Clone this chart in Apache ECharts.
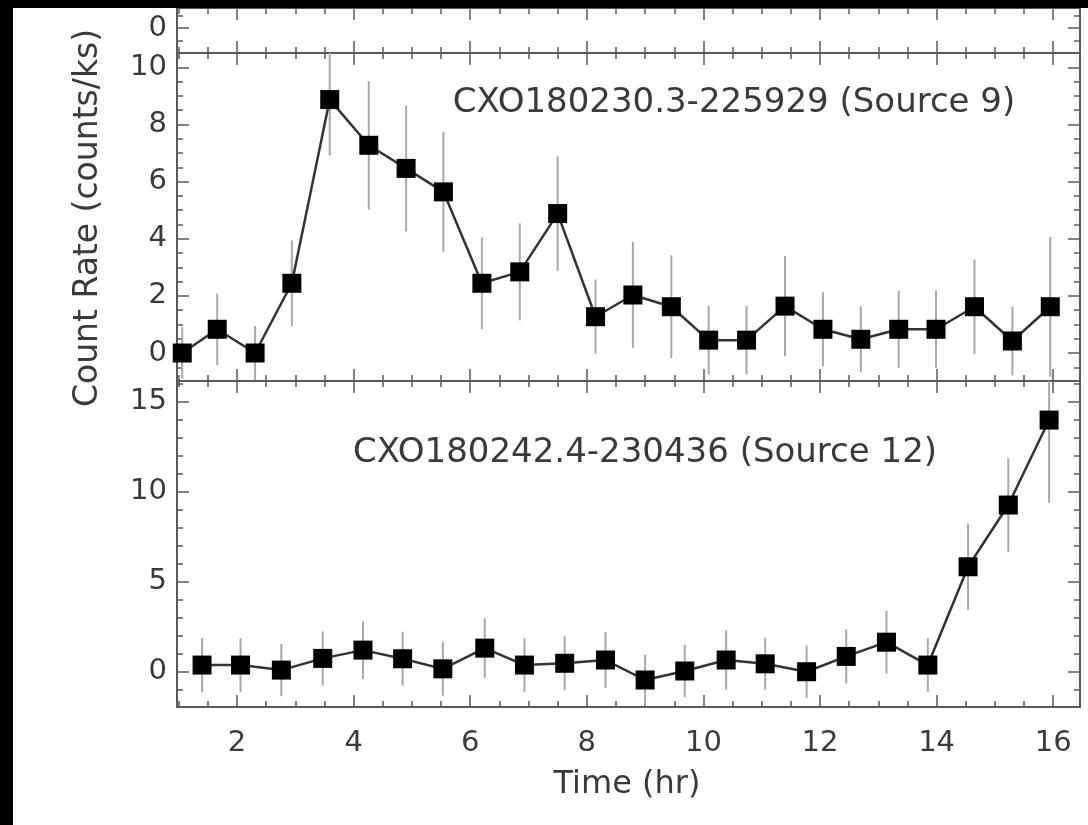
<html>
<head>
    <meta http-equiv="Content-Type" content="text/html; charset=utf-8">
    <title>light curves</title>
    <style>
        html, body { margin: 0; padding: 0; background: #fff; overflow: hidden; }
        #main { position: absolute; left: 13px; top: 8px; width: 1075px; height: 817px; }
        .edge { position: absolute; background: #000; }
    </style>
</head>
<body>
<div class="edge" style="left:0;top:0;width:13px;height:825px;"></div>
<div class="edge" style="left:0;top:0;width:1088px;height:8px;"></div>
<div id="main"></div>
<script type="text/javascript" src="https://cdn.jsdelivr.net/npm/echarts@6/dist/echarts.min.js"></script>
<script type="text/javascript">
// source 9 (upper panel)
var timeA = [1.06, 1.66, 2.31, 2.94, 3.59, 4.26, 4.90, 5.54, 6.20, 6.85, 7.50, 8.15,
             8.79, 9.45, 10.09, 10.74, 11.40, 12.05, 12.70, 13.35, 13.99, 14.65, 15.30, 15.95];
var rateA = [0, 0.83, 0, 2.44, 8.87, 7.27, 6.46, 5.64, 2.44, 2.84, 4.88, 1.27,
             2.03, 1.62, 0.45, 0.45, 1.64, 0.83, 0.48, 0.83, 0.83, 1.62, 0.42, 1.62];
var errA  = [0.9, 1.25, 0.95, 1.5, 1.95, 2.25, 2.2, 2.1, 1.6, 1.7, 2.0, 1.3,
             1.85, 1.8, 1.2, 1.2, 1.75, 1.3, 1.15, 1.35, 1.35, 1.65, 1.2, 2.45];

// source 12 (lower panel)
var timeB = [1.40, 2.06, 2.76, 3.47, 4.16, 4.84, 5.53, 6.25, 6.93, 7.62, 8.32,
             9.00, 9.68, 10.39, 11.06, 11.77, 12.45, 13.14, 13.85, 14.54, 15.23, 15.93];
var rateB = [0.37, 0.37, 0.09, 0.74, 1.2, 0.72, 0.16, 1.31, 0.37, 0.47, 0.65,
             -0.46, 0.04, 0.65, 0.44, 0.0, 0.85, 1.64, 0.37, 5.83, 9.26, 13.98];
var errB  = [1.5, 1.5, 1.45, 1.5, 1.6, 1.5, 1.5, 1.65, 1.5, 1.5, 1.55,
             1.4, 1.45, 1.65, 1.45, 1.45, 1.5, 1.75, 1.5, 2.4, 2.6, 4.6];

var xTicks = [2, 4, 6, 8, 10, 12, 14, 16];
var yTicksA = [0, 2, 4, 6, 8, 10];
var yTicksB = [0, 5, 10, 15];
var yTicksCut = [0];

var labelA = 'CXO180230.3-225929 (Source 9)';
var labelB = 'CXO180242.4-230436 (Source 12)';

var FONT = 'DejaVu Sans';
var AXIS = '#5a5a5a';
var TEXT = '#3a3a3a';

function steps(a, b, s) {
    var out = [];
    for (var v = a; v <= b + 1e-9; v += s) out.push(Math.round(v * 1000) / 1000);
    return out;
}

var grids = [
    {left: 164, top: 0, width: 903, height: 45},
    {left: 164, top: 45, width: 903, height: 328},
    {left: 164, top: 373, width: 903, height: 326}
];
var yRanges = [[-1, 0.8], [-0.98, 10.5], [-1.96, 16.15]];
var yMajors = [yTicksCut, yTicksA, yTicksB];
var yMinors = [steps(-1, 0.5, 0.5), steps(-0.5, 10.5, 0.5), steps(-1, 16, 1)];
var xMin = 0.97, xMax = 16.46;
var xMinor = steps(1, 16.5, 0.5);

var xAxes = [], yAxes = [], mainX = [], mainY = [];

function axis(g, pos, min, max, ticks, len, showLine, labels) {
    return {
        type: 'value', gridIndex: g, position: pos, min: min, max: max,
        axisLine: {show: showLine, onZero: false, lineStyle: {color: AXIS, width: 2}},
        axisTick: {show: true, inside: true, length: len, customValues: ticks, lineStyle: {color: AXIS, width: 1.5}},
        axisLabel: labels ? {show: true, customValues: labels, color: TEXT, fontFamily: FONT, fontSize: 29,
                             margin: pos === 'bottom' ? 22 : 10} : {show: false},
        splitLine: {show: false}
    };
}

for (var g = 0; g < 3; g++) {
    mainX.push(xAxes.length);
    xAxes.push(axis(g, 'bottom', xMin, xMax, xTicks, 12, true, g === 2 ? xTicks : null));
    xAxes.push(axis(g, 'bottom', xMin, xMax, xMinor, 6, false, null));
    xAxes.push(axis(g, 'top', xMin, xMax, xTicks, 12, true, null));
    xAxes.push(axis(g, 'top', xMin, xMax, xMinor, 6, false, null));

    var r = yRanges[g];
    mainY.push(yAxes.length);
    yAxes.push(axis(g, 'left', r[0], r[1], yMajors[g], 12, true, yMajors[g]));
    yAxes.push(axis(g, 'left', r[0], r[1], yMinors[g], 6, false, null));
    yAxes.push(axis(g, 'right', r[0], r[1], yMajors[g], 12, true, null));
    yAxes.push(axis(g, 'right', r[0], r[1], yMinors[g], 6, false, null));
}

function errorSeries(g, t, v, e) {
    var data = [];
    for (var i = 0; i < t.length; i++) data.push([t[i], v[i] - e[i], v[i] + e[i]]);
    return {
        type: 'custom', xAxisIndex: mainX[g], yAxisIndex: mainY[g], z: 1,
        data: data,
        renderItem: function (params, api) {
            var p1 = api.coord([api.value(0), api.value(1)]);
            var p2 = api.coord([api.value(0), api.value(2)]);
            var cs = params.coordSys;
            var yTop = cs.y, yBot = cs.y + cs.height;
            var a = Math.min(Math.max(p1[1], yTop), yBot);
            var b = Math.min(Math.max(p2[1], yTop), yBot);
            return {type: 'line', shape: {x1: p1[0], y1: a, x2: p2[0], y2: b},
                    style: {stroke: '#a8a8a8', lineWidth: 2}};
        }
    };
}

function lineSeries(g, t, v) {
    var data = [];
    for (var i = 0; i < t.length; i++) data.push([t[i], v[i]]);
    return {
        type: 'line', xAxisIndex: mainX[g], yAxisIndex: mainY[g], z: 3,
        data: data, symbol: 'rect', symbolSize: 19, showSymbol: true,
        itemStyle: {color: '#000'}, lineStyle: {color: '#333', width: 2.5},
        animation: false
    };
}

var myChart = echarts.init(document.getElementById('main'));

var option = {
    animation: false,
    backgroundColor: '#fff',
    grid: grids,
    xAxis: xAxes,
    yAxis: yAxes,
    series: [
        errorSeries(1, timeA, rateA, errA),
        lineSeries(1, timeA, rateA),
        errorSeries(2, timeB, rateB, errB),
        lineSeries(2, timeB, rateB)
    ],
    graphic: [
        {type: 'text', x: 721, y: 95, style: {text: labelA, fill: TEXT, font: '34px "DejaVu Sans"', textAlign: 'center', textVerticalAlign: 'middle'}},
        {type: 'text', x: 632, y: 445, style: {text: labelB, fill: TEXT, font: '34px "DejaVu Sans"', textAlign: 'center', textVerticalAlign: 'middle'}},
        {type: 'text', x: 75, y: 210, rotation: Math.PI / 2, style: {text: 'Count Rate (counts/ks)', fill: TEXT, font: '33px "DejaVu Sans"', textAlign: 'center', textVerticalAlign: 'middle'}},
        {type: 'text', x: 614, y: 777, style: {text: 'Time (hr)', fill: TEXT, font: '32px "DejaVu Sans"', textAlign: 'center', textVerticalAlign: 'middle'}}
    ]
};
myChart.setOption(option);
</script>
</body>
</html>
